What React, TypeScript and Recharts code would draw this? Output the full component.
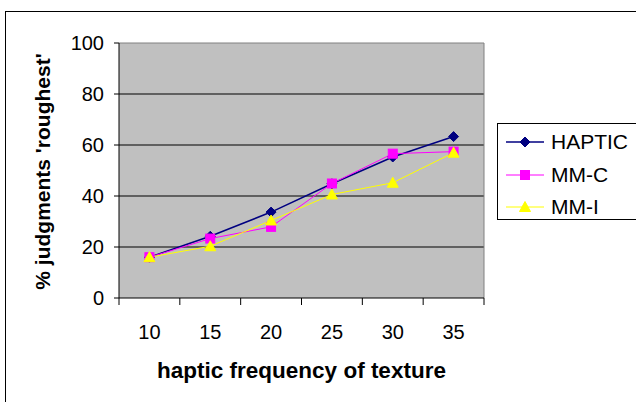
import { LineChart, Line, XAxis, YAxis, CartesianGrid, ReferenceLine, Legend } from 'recharts'

const frequencies = [10, 15, 20, 25, 30, 35]
const haptic = [16, 24.2, 33.7, 44.8, 55.3, 63.3]
const mmC = [16, 23.3, 27.9, 44.9, 56.6, 57.4]
const mmI = [16, 20.3, 30.4, 40.6, 45.2, 57]
const yTicks = [0, 20, 40, 60, 80, 100]

const FONT = '"Liberation Sans", Arial, sans-serif'

const series = [
  { key: 'HAPTIC', color: '#000080', shape: 'diamond', width: 1.5 },
  { key: 'MM-C', color: '#ff00ff', shape: 'square', width: 1 },
  { key: 'MM-I', color: '#ffff00', shape: 'triangle', width: 1 },
]

const data = frequencies.map((f, i) => ({ f, HAPTIC: haptic[i], 'MM-C': mmC[i], 'MM-I': mmI[i] }))

// Excel puts the category ticks between the categories
const half = (frequencies[1] - frequencies[0]) / 2
const bounds = [...frequencies.map((f) => f - half), frequencies[frequencies.length - 1] + half]
const xTicks = [...bounds, ...frequencies].sort((a, b) => a - b)

function Marker({ cx, cy, shape, color }: any) {
  if (cx == null || cy == null) return null
  if (shape === 'diamond') {
    return <polygon points={`${cx},${cy - 5} ${cx + 5},${cy} ${cx},${cy + 5} ${cx - 5},${cy}`} fill={color} stroke={color} />
  }
  if (shape === 'square') {
    return <rect x={cx - 4.5} y={cy - 4.5} width={9} height={9} fill={color} stroke={color} />
  }
  return <polygon points={`${cx},${cy - 5.5} ${cx + 5.5},${cy + 4.5} ${cx - 5.5},${cy + 4.5}`} fill={color} stroke={color} />
}

function XTick({ x, y, payload }: any) {
  if (frequencies.includes(payload.value)) {
    return (
      <text x={x} y={y + 41} textAnchor="middle" fontSize={20} fontFamily={FONT} fill="#000">
        {payload.value}
      </text>
    )
  }
  return <line x1={x} x2={x} y1={y} y2={y + 7} stroke="#000" />
}

function YLabel({ viewBox }: any) {
  const x = viewBox.x + 11
  const y = viewBox.y + viewBox.height / 2 + 1
  return (
    <text
      x={x}
      y={y}
      transform={`rotate(-90, ${x}, ${y})`}
      textAnchor="middle"
      fontSize={21}
      fontWeight="bold"
      fontFamily={FONT}
      fill="#000"
    >
      % judgments 'roughest'
    </text>
  )
}

function LegendBox({ payload }: any) {
  return (
    <div style={{ border: '1px solid #000', boxSizing: 'border-box', width: 142, height: 97, paddingTop: 2, background: '#fff', fontFamily: FONT }}>
      {(payload || []).map((p: any) => {
        const s = series.find((d) => d.key === p.value) || series[0]
        return (
          <div key={p.value} style={{ display: 'flex', alignItems: 'center', height: 32.5 }}>
            <svg width={50} height={32}>
              <line x1={8} x2={46} y1={16} y2={16} stroke={s.color} strokeWidth={s.width} />
              <Marker cx={27} cy={16} shape={s.shape} color={s.color} />
            </svg>
            <span style={{ fontSize: 21, marginLeft: 3, color: '#000' }}>{p.value}</span>
          </div>
        )
      })}
    </div>
  )
}

export default function App() {
  return (
    <div style={{ position: 'absolute', left: 0, top: 0, width: 636, height: 402, overflow: 'hidden', background: '#fff' }}>
      <div style={{ position: 'absolute', left: 5, top: 11, width: 700, height: 500, border: '1px solid #000' }} />
      <LineChart
        width={636}
        height={402}
        data={data}
        margin={{ top: 43, right: 152, bottom: 20, left: 39 }}
        style={{ position: 'absolute', left: 0, top: 0 }}
      >
        <CartesianGrid fill="#c0c0c0" horizontal={false} vertical={false} />
        {yTicks.slice(1, -1).map((t) => (
          <ReferenceLine key={t} y={t} stroke="#000" />
        ))}
        <ReferenceLine y={100} stroke="#808080" />
        <ReferenceLine x={bounds[bounds.length - 1]} stroke="#808080" />
        <XAxis
          dataKey="f"
          type="number"
          domain={[bounds[0], bounds[bounds.length - 1]]}
          ticks={xTicks}
          interval={0}
          tickLine={false}
          tickSize={0}
          tickMargin={0}
          axisLine={{ stroke: '#000' }}
          tick={<XTick />}
          height={84}
          label={{ value: 'haptic frequency of texture', position: 'insideBottom', offset: 4, fontSize: 22.5, fontWeight: 'bold', fontFamily: FONT, fill: '#000' }}
        />
        <YAxis
          domain={[0, 100]}
          ticks={yTicks}
          interval={0}
          width={80}
          tickSize={5}
          tickMargin={10}
          axisLine={{ stroke: '#000' }}
          tickLine={{ stroke: '#000' }}
          tick={{ fontSize: 20, fontFamily: FONT, fill: '#000' }}
          label={<YLabel />}
        />
        {series.map((s) => (
          <Line
            key={s.key}
            dataKey={s.key}
            name={s.key}
            stroke={s.color}
            strokeWidth={s.width}
            isAnimationActive={false}
            dot={(props: any) => <Marker key={`${s.key}-${props.index}`} cx={props.cx} cy={props.cy} shape={s.shape} color={s.color} />}
            activeDot={false}
          />
        ))}
        <Legend
          layout="horizontal"
          verticalAlign="middle"
          align="center"
          wrapperStyle={{ left: 497, top: 123, width: 142, height: 97 }}
          content={<LegendBox />}
        />
      </LineChart>
    </div>
  )
}
